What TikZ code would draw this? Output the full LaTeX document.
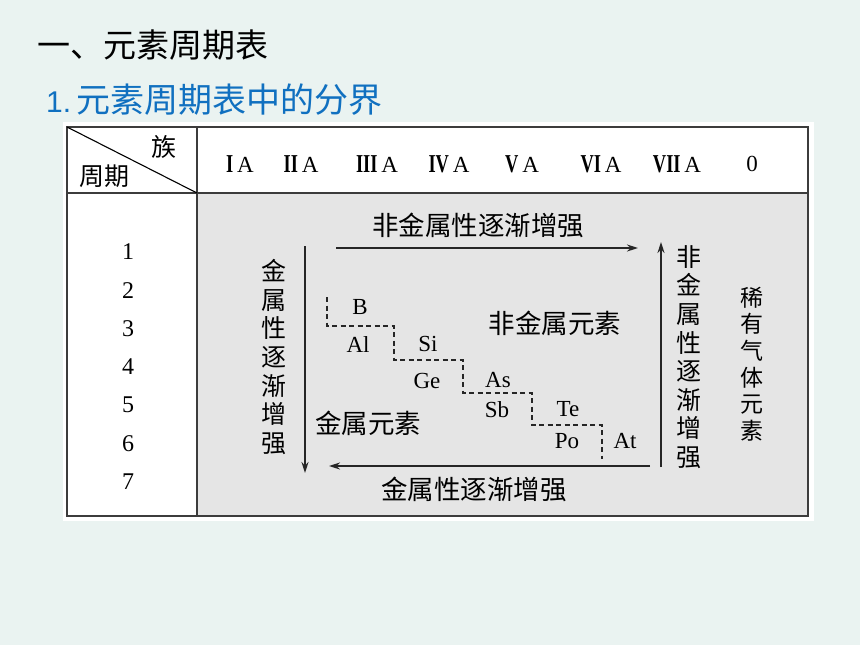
\documentclass[tikz,border=0pt]{standalone}
\usepackage{fontspec}
\newfontfamily\cjk{Noto Sans CJK SC}
\newfontfamily\tnr{Liberation Serif}
\newfontfamily\tnrb{Liberation Serif Bold}
\newfontfamily\arial{Liberation Sans}
\usetikzlibrary{arrows.meta}
\definecolor{bgmint}{RGB}{234,243,241}
\definecolor{cellgray}{RGB}{229,229,229}
\definecolor{titleblue}{RGB}{16,112,192}
\definecolor{frameline}{RGB}{60,60,60}
\newcommand{\rmn}[1]{\scalebox{0.8}[1.12]{\tnrb #1}}
\tikzset{
  cjkbody/.style={font=\cjk\fontsize{26.5}{28}\selectfont, inner sep=0pt},
  vtext/.style={font=\cjk\fontsize{25}{28.6}\selectfont, align=center, inner sep=0pt},
  elem/.style={font=\tnr\fontsize{23}{24}\selectfont, inner sep=0pt},
  rowno/.style={font=\tnr\fontsize{24}{24}\selectfont, inner sep=0pt},
  grp/.style={font=\tnr\fontsize{23}{24}\selectfont, inner sep=0pt},
  arr/.style={line width=1.7pt, draw=black!85, -{Stealth[length=11pt,width=7pt]}},
  bound/.style={line width=1.4pt, dash pattern=on 5pt off 3.5pt, draw=black!85}
}
\begin{document}
\begin{tikzpicture}[x=1pt,y=-1pt]
\fill[bgmint] (0,0) rectangle (860,645);
\useasboundingbox (0,0) rectangle (860,645);
% titles
\node[anchor=west, inner sep=0pt, font=\cjk\fontsize{33}{36}\selectfont] (t1) at (37,45) {一、元素周期表};
\node[anchor=west, inner sep=0pt, font=\fontsize{34}{36}\selectfont, text=titleblue] (t2) at (46,100) {{\arial\fontsize{30}{32}\selectfont 1.}\,{\cjk 元素周期表中的分界}};
% table
\fill[white] (63,122) rectangle (814,521);
\fill[cellgray] (197,193) rectangle (808,516);
\draw[frameline, line width=1.8pt] (67,127) rectangle (808,516);
\draw[frameline, line width=1.5pt] (67,193) -- (808,193);
\draw[frameline, line width=1.5pt] (197,127) -- (197,516);
\draw[black, line width=1.1pt] (67,127) -- (197,193);
\node[font=\cjk\fontsize{25}{26}\selectfont, inner sep=0pt] (zu) at (164,147) {族};
\node[font=\cjk\fontsize{25}{26}\selectfont, inner sep=0pt] (zq) at (104,176) {周期};
% group headers
\node[grp] (g1) at (240,164) {\rmn{I}\,A};
\node[grp] (g2) at (301,164) {\rmn{II}\,A};
\node[grp] (g3) at (377,164) {\rmn{III}\,A};
\node[grp] (g4) at (449,164) {\rmn{IV}\,A};
\node[grp] (g5) at (522,164) {\rmn{V}\,A};
\node[grp] (g6) at (601,164) {\rmn{VI}\,A};
\node[grp] (g7) at (677,164) {\rmn{VII}\,A};
\node[grp] (g0) at (752,164) {0};
% period numbers
\foreach \n [count=\i from 0] in {1,...,7} {
  \node[rowno] (p\n) at (128,{252+38.3*\i}) {\n};
}
% arrows and labels
\coordinate (ta) at (336,248);
\coordinate (tb) at (638,248);
\draw[arr] (ta) -- (tb);
\node[cjkbody] (tl) at (478,225) {非金属性逐渐增强};
\coordinate (la) at (305,246);
\coordinate (lb) at (305,473);
\draw[arr] (la) -- (lb);
\node[vtext] (ll) at (274,357) {金\\属\\性\\逐\\渐\\增\\强};
\coordinate (ba) at (650,466);
\coordinate (bb) at (329,466);
\draw[arr] (ba) -- (bb);
\node[cjkbody] (bl) at (474,489) {金属性逐渐增强};
\coordinate (ra) at (661,467);
\coordinate (rb) at (661,242);
\draw[arr] (ra) -- (rb);
\node[vtext] (rl) at (689,357) {非\\金\\属\\性\\逐\\渐\\增\\强};
\node[vtext, font=\cjk\fontsize{23}{26.7}\selectfont] (ng) at (752,364) {稀\\有\\气\\体\\元\\素};
% elements
\node[elem] (eB) at (360,307) {B};
\node[elem] (eAl) at (358,345) {Al};
\node[elem] (eSi) at (428,344) {Si};
\node[elem] (eGe) at (427,381) {Ge};
\node[elem] (eAs) at (498,380) {As};
\node[elem] (eSb) at (497,410) {Sb};
\node[elem] (eTe) at (568,409) {Te};
\node[elem] (ePo) at (567,441) {Po};
\node[elem] (eAt) at (625,441) {At};
\node[cjkbody] (nm) at (555,323) {非金属元素};
\node[cjkbody] (me) at (368,423) {金属元素};
% boundary
\draw[bound] (327,297) -- (327,326) -- (394,326) -- (394,360) -- (463,360) -- (463,393) -- (532,393) -- (532,425) -- (602,425) -- (602,459);
\end{tikzpicture}
\end{document}
